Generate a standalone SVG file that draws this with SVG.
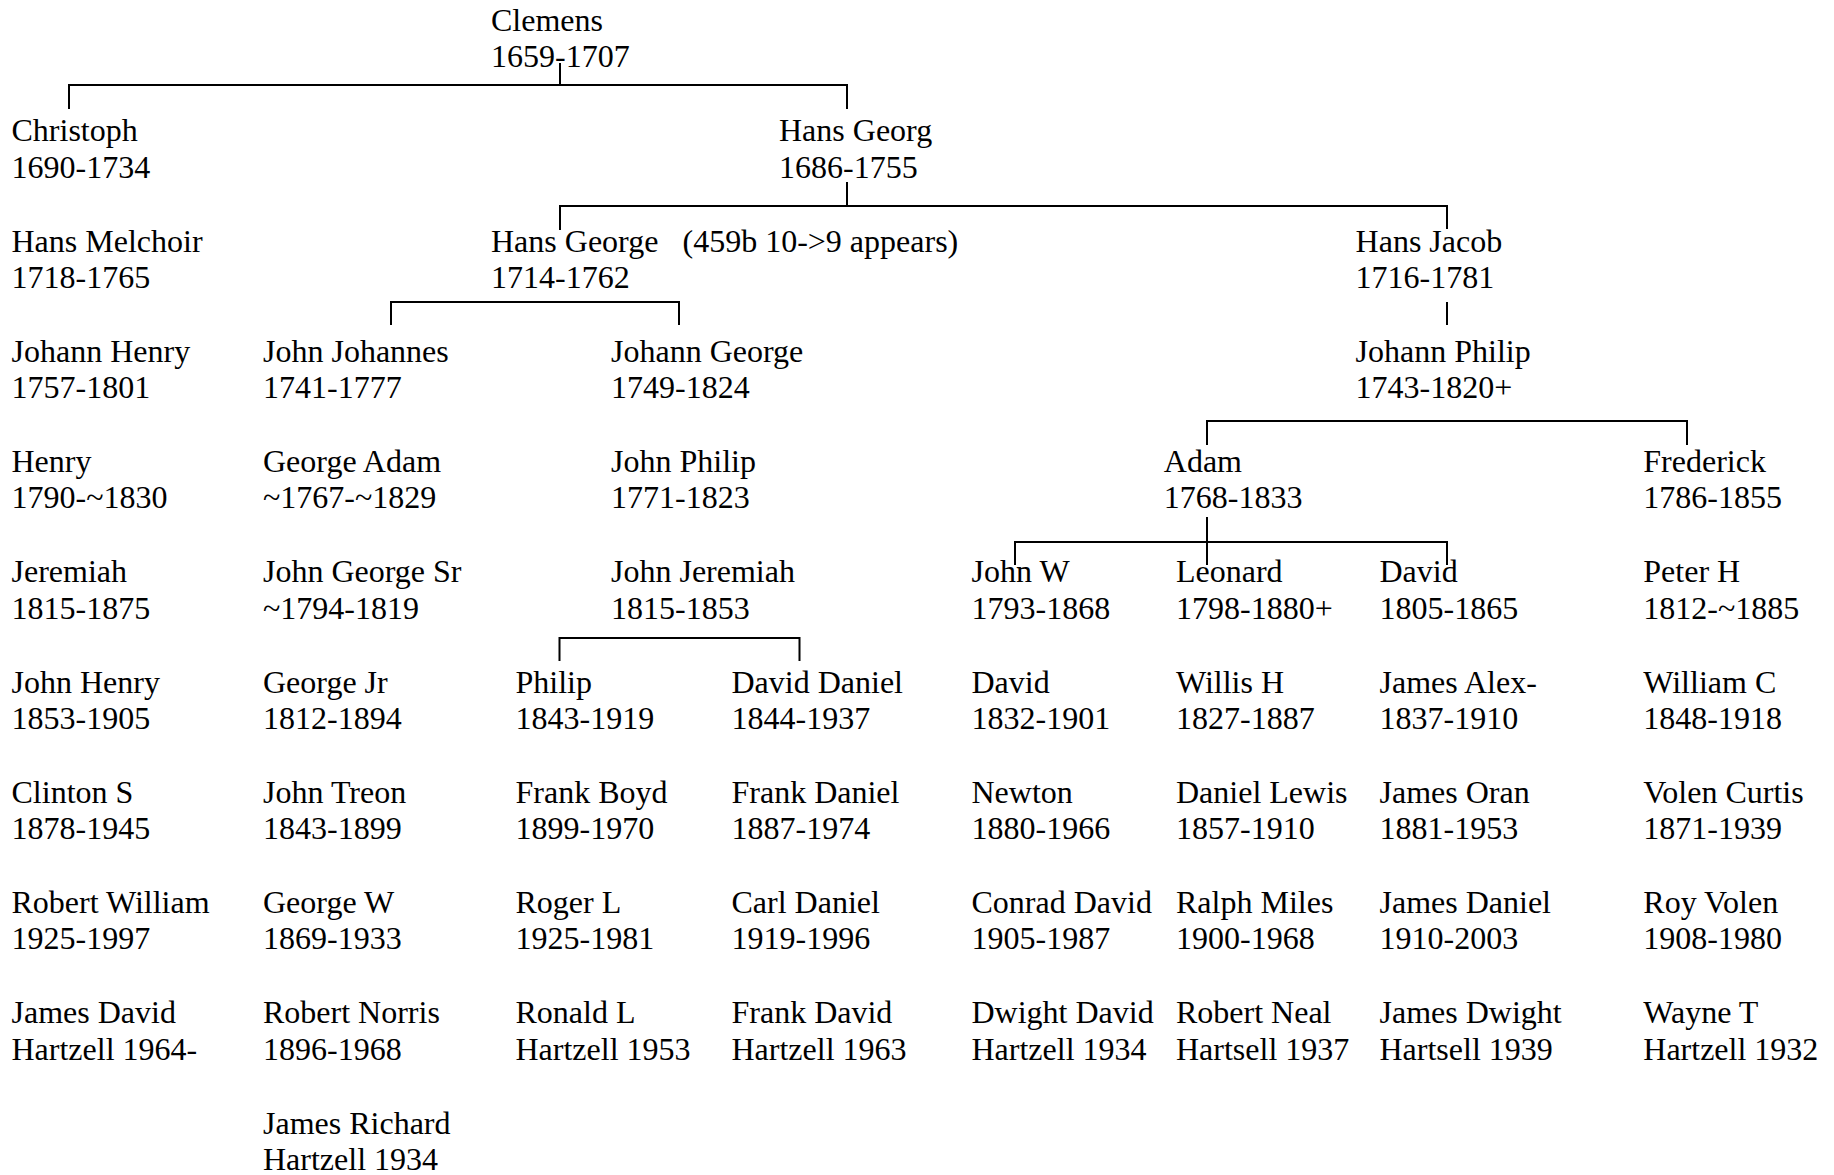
<svg xmlns="http://www.w3.org/2000/svg" width="1834" height="1175" viewBox="0 0 1834 1175">
<style>
.t{font-family:"Liberation Serif","Times New Roman",serif;font-size:32px;fill:#000}
.c{fill:none;stroke:#000;stroke-width:2}
</style>
<rect width="1834" height="1175" fill="#fff"/>
<g id="connectors" class="c">
<path d="M560,63 V85"/>
<path d="M69,109 V85 H847 V109"/>
<path d="M847,182 V206"/>
<path d="M560,230 V206 H1447 V229"/>
<path d="M391,325 V302 H679 V325"/>
<path d="M1447,302 V325"/>
<path d="M1207,445 V421 H1687 V445"/>
<path d="M1207,517 V565"/>
<path d="M1015,565 V542 H1447 V565"/>
<path d="M559.5,661 V638 H799.5 V661"/>
</g>
<g id="clemens"><text class="t" x="491" y="31">Clemens<tspan x="491" dy="36.3">1659-1707</tspan></text></g>
<g id="christoph"><text class="t" x="11.5" y="141.25">Christoph<tspan x="11.5" dy="36.3">1690-1734</tspan></text></g>
<g id="hans-georg"><text class="t" x="779" y="141.25">Hans Georg<tspan x="779" dy="36.3">1686-1755</tspan></text></g>
<g id="hans-melchoir"><text class="t" x="11.5" y="251.5">Hans Melchoir<tspan x="11.5" dy="36.3">1718-1765</tspan></text></g>
<g id="hans-george"><text class="t" x="491" y="251.5">Hans George<tspan x="491" dy="36.3">1714-1762</tspan></text><text class="t" x="682.5" y="251.5">(459b 10-&gt;9 appears)</text></g>
<g id="hans-jacob"><text class="t" x="1355.6" y="251.5">Hans Jacob<tspan x="1355.6" dy="36.3">1716-1781</tspan></text></g>
<g id="johann-henry"><text class="t" x="11.5" y="361.75">Johann Henry<tspan x="11.5" dy="36.3">1757-1801</tspan></text></g>
<g id="john-johannes"><text class="t" x="263" y="361.75">John Johannes<tspan x="263" dy="36.3">1741-1777</tspan></text></g>
<g id="johann-george"><text class="t" x="611" y="361.75">Johann George<tspan x="611" dy="36.3">1749-1824</tspan></text></g>
<g id="johann-philip"><text class="t" x="1355.6" y="361.75">Johann Philip<tspan x="1355.6" dy="36.3">1743-1820+</tspan></text></g>
<g id="henry"><text class="t" x="11.5" y="472">Henry<tspan x="11.5" dy="36.3">1790-~1830</tspan></text></g>
<g id="george-adam"><text class="t" x="263" y="472">George Adam<tspan x="263" dy="36.3">~1767-~1829</tspan></text></g>
<g id="john-philip"><text class="t" x="611" y="472">John Philip<tspan x="611" dy="36.3">1771-1823</tspan></text></g>
<g id="adam"><text class="t" x="1163.8" y="472">Adam<tspan x="1163.8" dy="36.3">1768-1833</tspan></text></g>
<g id="frederick"><text class="t" x="1643.3" y="472">Frederick<tspan x="1643.3" dy="36.3">1786-1855</tspan></text></g>
<g id="jeremiah"><text class="t" x="11.5" y="582.25">Jeremiah<tspan x="11.5" dy="36.3">1815-1875</tspan></text></g>
<g id="john-george-sr"><text class="t" x="263" y="582.25">John George Sr<tspan x="263" dy="36.3">~1794-1819</tspan></text></g>
<g id="john-jeremiah"><text class="t" x="611" y="582.25">John Jeremiah<tspan x="611" dy="36.3">1815-1853</tspan></text></g>
<g id="john-w"><text class="t" x="971.5" y="582.25">John W<tspan x="971.5" dy="36.3">1793-1868</tspan></text></g>
<g id="leonard"><text class="t" x="1176" y="582.25">Leonard<tspan x="1176" dy="36.3">1798-1880+</tspan></text></g>
<g id="david-1805"><text class="t" x="1379.5" y="582.25">David<tspan x="1379.5" dy="36.3">1805-1865</tspan></text></g>
<g id="peter-h"><text class="t" x="1643.3" y="582.25">Peter H<tspan x="1643.3" dy="36.3">1812-~1885</tspan></text></g>
<g id="john-henry"><text class="t" x="11.5" y="692.5">John Henry<tspan x="11.5" dy="36.3">1853-1905</tspan></text></g>
<g id="george-jr"><text class="t" x="263" y="692.5">George Jr<tspan x="263" dy="36.3">1812-1894</tspan></text></g>
<g id="philip"><text class="t" x="515.5" y="692.5">Philip<tspan x="515.5" dy="36.3">1843-1919</tspan></text></g>
<g id="david-daniel"><text class="t" x="731.5" y="692.5">David Daniel<tspan x="731.5" dy="36.3">1844-1937</tspan></text></g>
<g id="david-1832"><text class="t" x="971.5" y="692.5">David<tspan x="971.5" dy="36.3">1832-1901</tspan></text></g>
<g id="willis-h"><text class="t" x="1176" y="692.5">Willis H<tspan x="1176" dy="36.3">1827-1887</tspan></text></g>
<g id="james-alex"><text class="t" x="1379.5" y="692.5">James Alex-<tspan x="1379.5" dy="36.3">1837-1910</tspan></text></g>
<g id="william-c"><text class="t" x="1643.3" y="692.5">William C<tspan x="1643.3" dy="36.3">1848-1918</tspan></text></g>
<g id="clinton-s"><text class="t" x="11.5" y="802.75">Clinton S<tspan x="11.5" dy="36.3">1878-1945</tspan></text></g>
<g id="john-treon"><text class="t" x="263" y="802.75">John Treon<tspan x="263" dy="36.3">1843-1899</tspan></text></g>
<g id="frank-boyd"><text class="t" x="515.5" y="802.75">Frank Boyd<tspan x="515.5" dy="36.3">1899-1970</tspan></text></g>
<g id="frank-daniel"><text class="t" x="731.5" y="802.75">Frank Daniel<tspan x="731.5" dy="36.3">1887-1974</tspan></text></g>
<g id="newton"><text class="t" x="971.5" y="802.75">Newton<tspan x="971.5" dy="36.3">1880-1966</tspan></text></g>
<g id="daniel-lewis"><text class="t" x="1176" y="802.75">Daniel Lewis<tspan x="1176" dy="36.3">1857-1910</tspan></text></g>
<g id="james-oran"><text class="t" x="1379.5" y="802.75">James Oran<tspan x="1379.5" dy="36.3">1881-1953</tspan></text></g>
<g id="volen-curtis"><text class="t" x="1643.3" y="802.75">Volen Curtis<tspan x="1643.3" dy="36.3">1871-1939</tspan></text></g>
<g id="robert-william"><text class="t" x="11.5" y="913">Robert William<tspan x="11.5" dy="36.3">1925-1997</tspan></text></g>
<g id="george-w"><text class="t" x="263" y="913">George W<tspan x="263" dy="36.3">1869-1933</tspan></text></g>
<g id="roger-l"><text class="t" x="515.5" y="913">Roger L<tspan x="515.5" dy="36.3">1925-1981</tspan></text></g>
<g id="carl-daniel"><text class="t" x="731.5" y="913">Carl Daniel<tspan x="731.5" dy="36.3">1919-1996</tspan></text></g>
<g id="conrad-david"><text class="t" x="971.5" y="913">Conrad David<tspan x="971.5" dy="36.3">1905-1987</tspan></text></g>
<g id="ralph-miles"><text class="t" x="1176" y="913">Ralph Miles<tspan x="1176" dy="36.3">1900-1968</tspan></text></g>
<g id="james-daniel"><text class="t" x="1379.5" y="913">James Daniel<tspan x="1379.5" dy="36.3">1910-2003</tspan></text></g>
<g id="roy-volen"><text class="t" x="1643.3" y="913">Roy Volen<tspan x="1643.3" dy="36.3">1908-1980</tspan></text></g>
<g id="james-david"><text class="t" x="11.5" y="1023.25">James David<tspan x="11.5" dy="36.3">Hartzell 1964-</tspan></text></g>
<g id="robert-norris"><text class="t" x="263" y="1023.25">Robert Norris<tspan x="263" dy="36.3">1896-1968</tspan></text></g>
<g id="ronald-l"><text class="t" x="515.5" y="1023.25">Ronald L<tspan x="515.5" dy="36.3">Hartzell 1953</tspan></text></g>
<g id="frank-david"><text class="t" x="731.5" y="1023.25">Frank David<tspan x="731.5" dy="36.3">Hartzell 1963</tspan></text></g>
<g id="dwight-david"><text class="t" x="971.5" y="1023.25">Dwight David<tspan x="971.5" dy="36.3">Hartzell 1934</tspan></text></g>
<g id="robert-neal"><text class="t" x="1176" y="1023.25">Robert Neal<tspan x="1176" dy="36.3">Hartsell 1937</tspan></text></g>
<g id="james-dwight"><text class="t" x="1379.5" y="1023.25">James Dwight<tspan x="1379.5" dy="36.3">Hartsell 1939</tspan></text></g>
<g id="wayne-t"><text class="t" x="1643.3" y="1023.25">Wayne T<tspan x="1643.3" dy="36.3">Hartzell 1932</tspan></text></g>
<g id="james-richard"><text class="t" x="263" y="1133.5">James Richard<tspan x="263" dy="36.3">Hartzell 1934</tspan></text></g>
</svg>
